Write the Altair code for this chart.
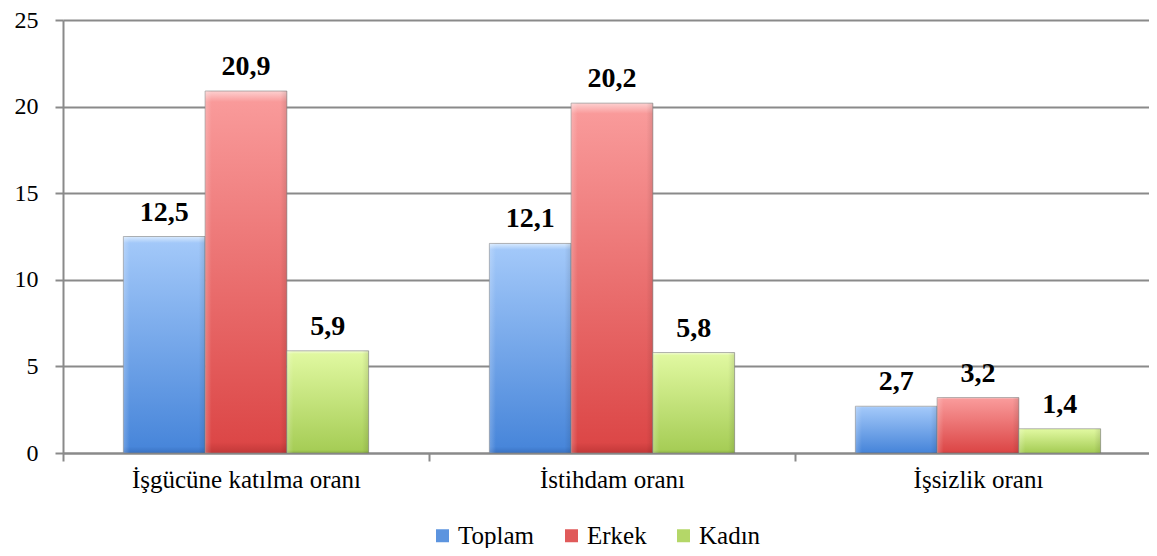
import altair as alt
import pandas as pd

groups = ["İşgücüne katılma oranı", "İstihdam oranı", "İşsizlik oranı"]
series = ["Toplam", "Erkek", "Kadın"]
toplam = [12.5, 12.1, 2.7]
erkek = [20.9, 20.2, 3.2]
kadin = [5.9, 5.8, 1.4]
y_ticks = [0, 5, 10, 15, 20, 25]
flat_colors = ["#5C94DF", "#E05A5A", "#B4D768"]

rows = []
for i, g in enumerate(groups):
    for s, vals in zip(series, [toplam, erkek, kadin]):
        rows.append({"group": g, "series": s, "value": vals[i],
                     "label": f"{vals[i]:.1f}".replace(".", ",")})
df = pd.DataFrame(rows)

FONT = "Liberation Serif"
GRAY = "#8a8a8a"


def grad(top_edge, top, bottom, bottom_edge):
    return alt.LinearGradient(
        gradient="linear", x1=0, y1=0, x2=0, y2=1,
        stops=[alt.GradientStop(color=top_edge, offset=0),
               alt.GradientStop(color=top, offset=0.03),
               alt.GradientStop(color=bottom, offset=0.97),
               alt.GradientStop(color=bottom_edge, offset=1)])


gradients = [
    grad("#D9EAFE", "#A2C8F9", "#4886DA", "#3A72C2"),
    grad("#FDD0D0", "#F99A9A", "#DC4747", "#C23838"),
    grad("#F4FDD8", "#E0F8A0", "#A6CD56", "#8FB445"),
]

side_shade = alt.LinearGradient(
    gradient="linear", x1=0, y1=0, x2=1, y2=0,
    stops=[alt.GradientStop(color="rgba(255,255,255,0.22)", offset=0),
           alt.GradientStop(color="rgba(255,255,255,0)", offset=0.08),
           alt.GradientStop(color="rgba(0,0,0,0)", offset=0.92),
           alt.GradientStop(color="rgba(0,0,0,0.10)", offset=1)])

x_enc = alt.X(
    "group:N", sort=groups, title=None,
    scale=alt.Scale(range=[0, 1098], paddingInner=0.33, paddingOuter=0.165),
    axis=alt.Axis(labelAngle=0, labelFontSize=25, labelFont=FONT, labelColor="black",
                  labelLimit=0, tickOffset=-183, labelOffset=183,
                  tickSize=8, tickColor=GRAY, tickWidth=2,
                  domainColor=GRAY, domainWidth=2, labelPadding=6))
y_enc = alt.Y(
    "value:Q", title=None, scale=alt.Scale(domain=[0, 25], nice=False),
    axis=alt.Axis(values=y_ticks, labelFontSize=24, labelFont=FONT, labelColor="black",
                  tickSize=8, tickColor=GRAY, tickWidth=2, domainColor=GRAY,
                  domainWidth=2, gridColor=GRAY, gridWidth=2, labelPadding=17))
xo_enc = alt.XOffset("series:N", sort=series, scale=alt.Scale(domain=series))

layers = []
for s, g in zip(series, gradients):
    layers.append(
        alt.Chart(df).transform_filter(alt.datum.series == s)
        .mark_bar(color=g, stroke="#7f7f7f", strokeWidth=1, strokeOpacity=0.6)
        .encode(x=x_enc, xOffset=xo_enc, y=y_enc)
    )

shade = alt.Chart(df).mark_bar(color=side_shade).encode(
    x=x_enc, xOffset=xo_enc, y=y_enc)

text = alt.Chart(df).mark_text(
    baseline="alphabetic", dy=-16, fontSize=28, fontWeight="bold", font=FONT, color="black"
).encode(x=x_enc, xOffset=xo_enc, y=y_enc, text="label:N")

legend_layer = alt.Chart(df).mark_square(opacity=0).encode(
    x=alt.value(0), y=alt.value(0),
    fill=alt.Fill("series:N", sort=series,
                  scale=alt.Scale(domain=series, range=flat_colors),
                  legend=alt.Legend(title=None, orient="none", direction="horizontal",
                                    legendX=367, legendY=503, symbolType="square",
                                    symbolSize=169, symbolStrokeWidth=0, symbolOpacity=1,
                                    labelFontSize=25, labelFont=FONT, labelColor="black",
                                    labelOffset=3, columnPadding=24)))

chart = alt.layer(*layers, shade, text, legend_layer).properties(
    width=1086, height=433,
    autosize=alt.AutoSizeParams(type="none"),
    padding={"left": 55, "top": 12, "right": 0, "bottom": 95},
).configure_view(stroke=None)

chart.save("out.html", embed_options={"renderer": "svg", "actions": False})
